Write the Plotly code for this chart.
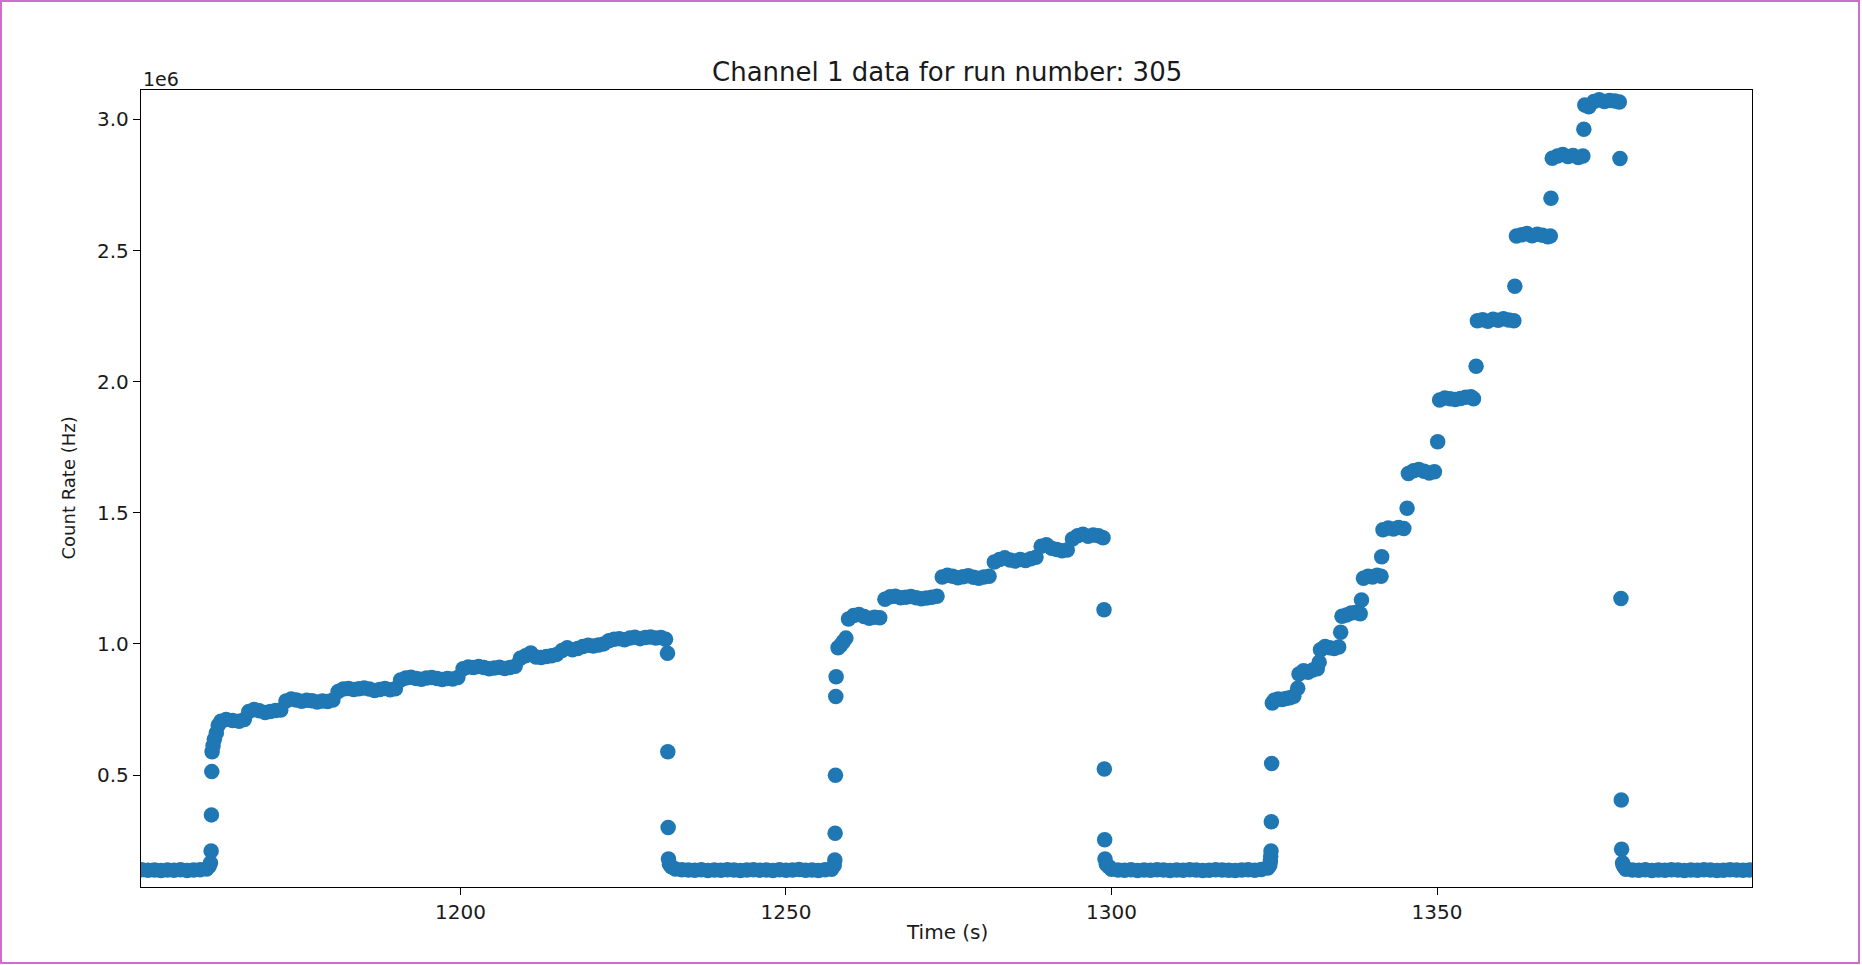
import plotly.graph_objects as go

# Count rate values, in units of 1e6 Hz (axis offset "1e6").
idle_1_time = [1151, 1152, 1153, 1154, 1155, 1156, 1157, 1158, 1159, 1160, 1161, 1161.4]
idle_1_rate = [0.139, 0.137, 0.138, 0.136, 0.138, 0.137, 0.139, 0.136, 0.138, 0.139, 0.142, 0.152]

ramp_1_time = [1161.6, 1161.7, 1161.75, 1161.8, 1161.85, 1162.0, 1162.2, 1162.5, 1162.8, 1163.2,
               1164.0, 1165.0, 1166.0, 1166.8, 1167.5, 1168.3, 1169.1, 1170.0, 1170.8, 1171.6,
               1172.4, 1173.2, 1174.0, 1174.8, 1175.6, 1176.4, 1177.2, 1178.0, 1178.8, 1179.6,
               1180.4, 1181.2, 1182.0, 1182.8, 1183.6, 1184.4, 1185.2, 1186.0, 1186.8, 1187.6,
               1188.4, 1189.2, 1190.0, 1190.8, 1191.6, 1192.4, 1193.2, 1194.0, 1194.8, 1195.6,
               1196.4, 1197.2, 1198.0, 1198.8, 1199.6, 1200.4, 1201.2, 1202.0, 1202.8, 1203.6,
               1204.4, 1205.2, 1206.0, 1206.8, 1207.6, 1208.4, 1209.2, 1210.0, 1210.8, 1211.6,
               1212.4, 1213.2, 1214.0, 1214.8, 1215.6, 1216.4, 1217.2, 1218.0, 1218.8, 1219.6,
               1220.4, 1221.2, 1222.0, 1222.8, 1223.6, 1224.4, 1225.2, 1226.0, 1226.8, 1227.6,
               1228.4, 1229.2, 1230.0, 1230.8, 1231.5, 1231.8, 1231.85, 1231.9, 1231.95, 1232.1]
ramp_1_rate = [0.165, 0.210, 0.348, 0.513, 0.589, 0.612, 0.636, 0.660, 0.690, 0.705,
               0.712, 0.708, 0.705, 0.712, 0.742, 0.750, 0.745, 0.738, 0.742, 0.746,
               0.748, 0.782, 0.790, 0.786, 0.781, 0.785, 0.783, 0.778, 0.782, 0.780,
               0.786, 0.818, 0.828, 0.830, 0.826, 0.829, 0.832, 0.828, 0.822, 0.826,
               0.830, 0.825, 0.829, 0.862, 0.870, 0.873, 0.868, 0.865, 0.870, 0.872,
               0.868, 0.864, 0.868, 0.866, 0.872, 0.905, 0.912, 0.910, 0.914, 0.910,
               0.905, 0.908, 0.911, 0.906, 0.910, 0.915, 0.945, 0.955, 0.965, 0.950,
               0.948, 0.952, 0.955, 0.960, 0.975, 0.985, 0.978, 0.982, 0.990, 0.995,
               0.992, 0.996, 1.000, 1.012, 1.018, 1.020, 1.016, 1.022, 1.025, 1.020,
               1.024, 1.026, 1.022, 1.024, 1.018, 0.964, 0.589, 0.300, 0.180, 0.160]

idle_2_time = [1232.4, 1233, 1234, 1235, 1236, 1237, 1238, 1239, 1240, 1241,
               1242, 1243, 1244, 1245, 1246, 1247, 1248, 1249, 1250, 1251,
               1252, 1253, 1254, 1255, 1256, 1257, 1257.4]
idle_2_rate = [0.150, 0.142, 0.139, 0.138, 0.137, 0.139, 0.136, 0.138, 0.137, 0.139,
               0.138, 0.136, 0.138, 0.139, 0.137, 0.138, 0.136, 0.139, 0.137, 0.138,
               0.140, 0.137, 0.138, 0.136, 0.139, 0.141, 0.155]

ramp_2_time = [1257.5, 1257.55, 1257.6, 1257.65, 1257.7, 1258.0, 1258.4, 1258.8, 1259.2, 1259.6,
               1260.4, 1261.2, 1262.0, 1262.8, 1263.6, 1264.4, 1265.2, 1266.0, 1266.8, 1267.6,
               1268.4, 1269.2, 1270.0, 1270.8, 1271.6, 1272.4, 1273.2, 1274.0, 1274.8, 1275.6,
               1276.4, 1277.2, 1278.0, 1278.8, 1279.6, 1280.4, 1281.2, 1282.0, 1282.8, 1283.6,
               1284.4, 1285.2, 1286.0, 1286.8, 1287.6, 1288.4, 1289.2, 1290.0, 1290.8, 1291.6,
               1292.4, 1293.2, 1294.0, 1294.8, 1295.6, 1296.4, 1297.2, 1298.0, 1298.7, 1298.85,
               1298.9, 1298.95, 1299.0, 1299.2]
ramp_2_rate = [0.176, 0.278, 0.499, 0.799, 0.875, 0.985, 0.995, 1.008, 1.022, 1.095,
               1.108, 1.112, 1.104, 1.098, 1.102, 1.100, 1.170, 1.180, 1.182, 1.176,
               1.178, 1.181, 1.176, 1.172, 1.175, 1.178, 1.182, 1.255, 1.262, 1.258,
               1.252, 1.256, 1.260, 1.254, 1.250, 1.255, 1.258, 1.312, 1.322, 1.328,
               1.320, 1.316, 1.322, 1.318, 1.325, 1.330, 1.372, 1.378, 1.365, 1.360,
               1.355, 1.358, 1.400, 1.412, 1.418, 1.410, 1.415, 1.412, 1.405, 1.130,
               0.523, 0.253, 0.180, 0.160]

idle_3_time = [1299.6, 1300, 1301, 1302, 1303, 1304, 1305, 1306, 1307, 1308,
               1309, 1310, 1311, 1312, 1313, 1314, 1315, 1316, 1317, 1318,
               1319, 1320, 1321, 1322, 1323, 1324]
idle_3_rate = [0.150, 0.141, 0.138, 0.137, 0.139, 0.136, 0.138, 0.137, 0.139, 0.138,
               0.136, 0.138, 0.137, 0.139, 0.138, 0.136, 0.137, 0.139, 0.138, 0.137,
               0.136, 0.138, 0.139, 0.137, 0.140, 0.145]

ramp_3_time = [1324.3, 1324.4, 1324.45, 1324.5, 1324.55, 1324.6, 1324.7, 1325.0, 1325.6, 1326.2,
               1326.8, 1327.4, 1328.0, 1328.6, 1328.8, 1329.5, 1330.2, 1330.9, 1331.6, 1331.9,
               1332.1, 1332.8, 1333.5, 1334.2, 1334.9, 1335.2, 1335.4, 1336.1, 1336.8, 1337.5,
               1338.2, 1338.4, 1338.7, 1339.4, 1340.1, 1340.8, 1341.4, 1341.5, 1341.7, 1342.5,
               1343.3, 1344.1, 1344.9, 1345.4, 1345.6, 1346.4, 1347.2, 1348.0, 1348.8, 1349.6,
               1350.1, 1350.4, 1351.2, 1352.0, 1352.8, 1353.6, 1354.4, 1355.2, 1355.6, 1356.0,
               1356.2, 1357.0, 1357.8, 1358.6, 1359.4, 1360.2, 1361.0, 1361.8, 1361.95, 1362.2,
               1363.0, 1363.8, 1364.6, 1365.4, 1366.2, 1367.0, 1367.4, 1367.5, 1367.7, 1368.5,
               1369.3, 1370.1, 1370.9, 1371.7, 1372.4, 1372.55, 1372.7, 1373.3, 1374.1, 1374.9,
               1375.7, 1376.5, 1377.3, 1378.0, 1378.1, 1378.25, 1378.3, 1378.35, 1378.5, 1378.6]
ramp_3_rate = [0.155, 0.170, 0.190, 0.210, 0.322, 0.544, 0.775, 0.785, 0.790, 0.788,
               0.792, 0.795, 0.800, 0.831, 0.885, 0.898, 0.892, 0.900, 0.905, 0.930,
               0.978, 0.990, 0.985, 0.982, 0.988, 1.044, 1.105, 1.110, 1.118, 1.120,
               1.115, 1.167, 1.250, 1.258, 1.255, 1.262, 1.258, 1.332, 1.435, 1.442,
               1.438, 1.444, 1.440, 1.517, 1.650, 1.660, 1.665, 1.658, 1.652, 1.656,
               1.771, 1.930, 1.938, 1.935, 1.932, 1.936, 1.940, 1.942, 1.935, 2.059,
               2.232, 2.236, 2.230, 2.238, 2.234, 2.240, 2.235, 2.232, 2.364, 2.555,
               2.560, 2.565, 2.556, 2.562, 2.558, 2.552, 2.555, 2.699, 2.852, 2.860,
               2.866, 2.858, 2.862, 2.855, 2.860, 2.962, 3.055, 3.048, 3.068, 3.075,
               3.068, 3.072, 3.070, 3.066, 2.851, 1.173, 0.405, 0.217, 0.165, 0.155]

idle_4_time = [1378.8, 1379, 1380, 1381, 1382, 1383, 1384, 1385, 1386, 1387,
               1388, 1389, 1390, 1391, 1392, 1393, 1394, 1395, 1396, 1397, 1398]
idle_4_rate = [0.148, 0.141, 0.138, 0.137, 0.139, 0.136, 0.138, 0.137, 0.139, 0.138,
               0.136, 0.138, 0.137, 0.139, 0.138, 0.136, 0.137, 0.139, 0.138, 0.137, 0.138]

y_tick_values = [0.5, 1.0, 1.5, 2.0, 2.5, 3.0]
y_tick_labels = ["0.5", "1.0", "1.5", "2.0", "2.5", "3.0"]
x_tick_values = [1200, 1250, 1300, 1350]
x_tick_labels = ["1200", "1250", "1300", "1350"]

segments = [(idle_1_time, idle_1_rate), (ramp_1_time, ramp_1_rate),
            (idle_2_time, idle_2_rate), (ramp_2_time, ramp_2_rate),
            (idle_3_time, idle_3_rate), (ramp_3_time, ramp_3_rate),
            (idle_4_time, idle_4_rate)]
time_s = []
rate_hz = []
for t_list, r_list in segments:
    assert len(t_list) == len(r_list), (len(t_list), len(r_list))
    time_s.extend(t_list)
    rate_hz.extend(r * 1e6 for r in r_list)

FONT = "DejaVu Sans, Verdana, sans-serif"
TXT = "#1a1a1a"

# plot area in pixels
W, H = 1862, 965
L, R, T, B = 141, 110, 90, 78
pw, ph = W - L - R, H - T - B

fig = go.Figure()
fig.add_trace(go.Scatter(
    x=time_s, y=rate_hz, mode="markers",
    marker=dict(color="#1f77b4", size=15.5, line=dict(width=0)),
    cliponaxis=True, hoverinfo="skip",
))

axis_common = dict(
    showline=True, mirror=True, linecolor="black", linewidth=1.4,
    ticks="outside", ticklen=7, tickwidth=1.3, tickcolor="black",
    showgrid=False, zeroline=False,
    tickfont=dict(family=FONT, size=20, color=TXT),
)

fig.update_layout(
    width=W, height=H,
    margin=dict(l=L, r=R, t=T, b=B, pad=0),
    paper_bgcolor="white", plot_bgcolor="white",
    showlegend=False,
    font=dict(family=FONT, color=TXT),
    xaxis=dict(range=[1150.93, 1398.38], tickvals=x_tick_values, ticktext=x_tick_labels,
               **axis_common),
    yaxis=dict(range=[0.073e6, 3.112e6], tickvals=[v * 1e6 for v in y_tick_values],
               ticktext=y_tick_labels, **axis_common),
)

fig.add_annotation(text="Channel 1 data for run number: 305", xref="paper", yref="paper",
                   x=0.5, y=1, yanchor="middle", xanchor="center", yshift=18,
                   showarrow=False, font=dict(family=FONT, size=26, color=TXT))
fig.add_annotation(text="1e6", xref="paper", yref="paper", x=0, y=1,
                   xanchor="left", yanchor="middle", yshift=11,
                   showarrow=False, font=dict(family=FONT, size=19, color=TXT))
fig.add_annotation(text="Time (s)", xref="paper", yref="paper", x=0.5, y=0,
                   xanchor="center", yanchor="middle", yshift=-45,
                   showarrow=False, font=dict(family=FONT, size=20, color=TXT))
fig.add_annotation(text="Count Rate (Hz)", xref="paper", yref="paper", x=0, y=0.5,
                   xanchor="center", yanchor="middle", xshift=-73, textangle=-90,
                   showarrow=False, font=dict(family=FONT, size=18, color=TXT))

# thin magenta frame around the whole image (page pixels 1..1859 x 1..963)
fig.add_shape(type="rect", xref="paper", yref="paper",
              x0=(1 - L) / pw, x1=(1859 - L) / pw,
              y0=-(963 - (H - B)) / ph, y1=1 + (T - 1) / ph,
              line=dict(color="#cc6fcc", width=2), fillcolor="rgba(0,0,0,0)", layer="above")

fig.write_html("out.html", config={"displayModeBar": False},
               post_script="document.body.style.margin='0';document.body.style.overflow='hidden';")
